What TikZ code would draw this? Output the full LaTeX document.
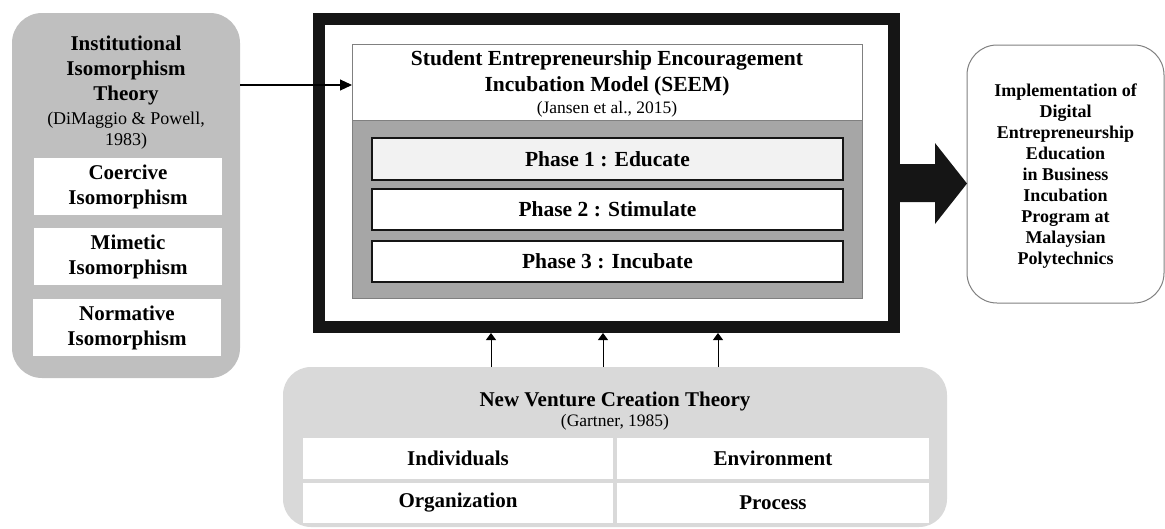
\documentclass[tikz,border=0pt]{standalone}
\usepackage{fontspec}
\setmainfont{Liberation Serif}
\usetikzlibrary{arrows.meta}
\definecolor{framec}{HTML}{151515}
\definecolor{leftgray}{HTML}{BFBFBF}
\definecolor{botgray}{HTML}{D9D9D9}
\definecolor{seemgray}{HTML}{A6A6A6}
\definecolor{phaseone}{HTML}{F2F2F2}
\definecolor{edgegray}{HTML}{808080}
\begin{document}
\begin{tikzpicture}[x=1pt,y=-1pt,
  sz/.style 2 args={minimum width=#1pt, minimum height=#2pt, inner sep=0pt, outer sep=0pt},
  btxt/.style={font=\fontsize{21}{25}\selectfont\bfseries, align=center, inner sep=0pt},
  rtxt/.style={font=\fontsize{17.5}{21}\selectfont, align=center, inner sep=0pt},
  wbox/.style={fill=white, btxt},
  phasebox/.style={draw=framec, line width=1.5pt, btxt},
  thin/.style={line width=1.1pt, draw=black},
  leftarr/.style={thin, -{Triangle[length=12pt,width=11pt]}},
  uparr/.style={line width=0.9pt, draw=black, -{Triangle[length=7pt,width=10pt]}}
]
\useasboundingbox (0,0) rectangle (1165,528);

% ---------- left box ----------
\node[sz={228}{365}, fill=leftgray, rounded corners=30pt] (lbox) at (126,195.5) {};
\node[btxt] (ltitle) at (126,70) {Institutional\\Isomorphism\\Theory};
\node[rtxt, font=\fontsize{18}{21}\selectfont] (lcite) at (126,130.5) {(DiMaggio \& Powell,\\1983)};
\node[wbox, sz={188}{57}] (coer) at (128,186.5) {Coercive\\Isomorphism};
\node[wbox, sz={188}{57}] (mime) at (128,256.5) {Mimetic\\Isomorphism};
\node[wbox, sz={188}{57}] (norm) at (127,327.5) {Normative\\Isomorphism};

% ---------- central frame ----------
\node[sz={575}{308}, draw=framec, line width=12pt] (frame) at (606.5,173) {};
\node[sz={510}{76}, fill=white, draw=edgegray, line width=0.8pt] (seemhead) at (607,82) {};
\node[sz={510}{178}, fill=seemgray, draw=edgegray, line width=0.8pt] (seembody) at (607,209) {};
\node[btxt, font=\fontsize{21.5}{26}\selectfont\bfseries] (seemtitle) at (607,73) {Student Entrepreneurship Encouragement\\Incubation Model (SEEM)};
\node[rtxt] (seemcite) at (607,109) {(Jansen et al., 2015)};
\node[phasebox, sz={471}{42}, fill=phaseone, font=\fontsize{21.5}{25}\selectfont\bfseries] (ph1) at (607.5,159) {Phase 1 : Educate};
\node[phasebox, sz={471}{41}, fill=white, font=\fontsize{21.5}{25}\selectfont\bfseries] (ph2) at (607.5,209.5) {Phase 2 : Stimulate};
\node[phasebox, sz={471}{41}, fill=white, font=\fontsize{21.5}{25}\selectfont\bfseries] (ph3) at (607.5,261.5) {Phase 3 : Incubate};

% arrow from left box into SEEM
\coordinate (ay) at (0,85);
\draw[leftarr] (lbox.east |- ay) -- (seemhead.west |- ay);

% ---------- right box ----------
\node[sz={197}{258}, fill=white, draw=edgegray, line width=1pt, rounded corners=30pt] (rbox) at (1065.5,174) {};
\node[btxt, font=\fontsize{18}{21.1}\selectfont\bfseries] (rtext) at (1065.5,176) {Implementation of\\Digital\\Entrepreneurship\\Education\\in Business\\Incubation\\Program at\\Malaysian\\Polytechnics};

% big arrow from frame to right box
\coordinate (fr) at (900,183.5);
\fill[framec] (fr |- 0,164) -- (935,164) -- (935,143) -- (rbox.west |- fr) -- (935,224) -- (935,202) -- (fr |- 0,202) -- cycle;

% ---------- bottom box ----------
\node[sz={664}{160}, fill=botgray, rounded corners=28pt] (nvc) at (615,447) {};
\node[btxt] (nvctitle) at (615,401) {New Venture Creation Theory};
\node[rtxt] (nvccite) at (615,422) {(Gartner, 1985)};
\node[wbox, sz={310}{41}] (indiv) at (458,458.5) {Individuals};
\node[wbox, sz={312}{41}] (envir) at (773,458.5) {Environment};
\node[wbox, sz={310}{40}] (organ) at (458,503) {Organization};
\node[wbox, sz={312}{40}] (proc) at (773,503) {Process};

% upward arrows
\coordinate (a1) at (491,333);
\coordinate (a2) at (603,333);
\coordinate (a3) at (718,333);
\draw[uparr] (nvc.north -| a1) -- (a1);
\draw[uparr] (nvc.north -| a2) -- (a2);
\draw[uparr] (nvc.north -| a3) -- (a3);
\end{tikzpicture}
\end{document}
